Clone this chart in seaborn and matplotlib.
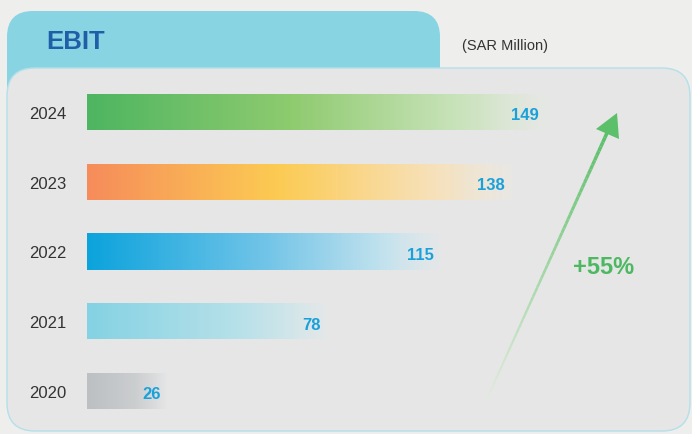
import numpy as np
import pandas as pd
import matplotlib
matplotlib.use("Agg")
import matplotlib.pyplot as plt
import seaborn as sns
from matplotlib.patches import FancyBboxPatch, Polygon
from matplotlib.collections import LineCollection
from matplotlib.colors import to_rgb

years = ["2024", "2023", "2022", "2021", "2020"]
ebit = [149, 138, 115, 78, 26]
title = "EBIT"
unit = "(SAR Million)"
growth = "+55%"

stops = {
    "2024": [(0, "#4DB560"), (0.45, "#8DCB6C"), (0.8, "#C6E2B6"), (1, "#E6E9E3")],
    "2023": [(0, "#F78C5A"), (0.45, "#FDCB4E"), (0.8, "#F8E0B4"), (1, "#EDE9E2")],
    "2022": [(0, "#0AA3DC"), (0.5, "#6CC3E8"), (0.85, "#C3E3EF"), (1, "#E4E8EA")],
    "2021": [(0, "#84D2E3"), (0.6, "#B2E0EA"), (1, "#E2E9EB")],
    "2020": [(0, "#BDC0C3"), (0.6, "#CACDCF"), (1, "#E3E4E5")],
}

sns.set_theme(style="white")
plt.rcParams["font.family"] = ["Liberation Sans", "DejaVu Sans"]

fig = plt.figure(figsize=(6.92, 4.35), dpi=100)
fig.patch.set_facecolor("#EEEEEC")

bg = fig.add_axes([0, 0, 1, 1])
bg.set_xlim(0, 692)
bg.set_ylim(435, 0)
bg.axis("off")

tab = FancyBboxPatch((7, 12), 433, 110, boxstyle="round,pad=0,rounding_size=26",
                     facecolor="#88D4E2", edgecolor="none", zorder=1)
bg.add_patch(tab)
panel = FancyBboxPatch((7, 69), 683, 363, boxstyle="round,pad=0,rounding_size=28",
                       facecolor="#E6E6E6", edgecolor="#B3E0EA", linewidth=1.0, zorder=2)
bg.add_patch(panel)

bg.text(46, 42, title, ha="left", va="center", fontsize=18.5, fontweight="bold",
        color="#1F5FA8", zorder=3)
bg.text(462, 46, unit, ha="left", va="center", fontsize=10.5, color="#333333", zorder=3)

# growth arrow
n = 60
xs = np.linspace(486, 607, n)
ys = np.linspace(402, 134, n)
pts = np.array([xs, ys]).T.reshape(-1, 1, 2)
segs = np.concatenate([pts[:-1], pts[1:]], axis=1)
c0 = np.array(to_rgb("#E2ECDC"))
c1 = np.array(to_rgb("#5CBF6A"))
t = np.linspace(0, 1, n - 1)[:, None]
cols = c0 * (1 - t) + c1 * t
lc = LineCollection(segs, colors=cols, linewidths=np.linspace(1.2, 2.6, n - 1), zorder=3)
bg.add_collection(lc)
bg.add_patch(Polygon([(617, 114), (596, 130), (619, 140)], closed=True,
                     facecolor="#5CBF6A", edgecolor="none", zorder=3))
bg.text(604, 268, growth, ha="center", va="center", fontsize=17, fontweight="bold",
        color="#4DB862", zorder=3)

ax = fig.add_axes([87 / 692, (435 - 427) / 435, 600 / 692, 349 / 435])
ax.set_facecolor("none")
ax.set_zorder(4)
df = pd.DataFrame({"year": years, "ebit": ebit})
sns.barplot(data=df, x="ebit", y="year", order=years, orient="h", ax=ax,
            width=0.52, color="#cccccc", saturation=1)
xmax = 149 * 600 / 458
ax.set_xlim(0, xmax)
ylim = ax.get_ylim()

for patch, yr, v in zip(ax.patches, years, ebit):
    x0, y0 = patch.get_x(), patch.get_y()
    w, h = patch.get_width(), patch.get_height()
    st = stops[yr]
    pos = [s[0] for s in st]
    rgb = np.array([to_rgb(s[1]) for s in st])
    u = np.linspace(0, 1, 256)
    arr = np.zeros((1, 256, 4))
    for k in range(3):
        arr[0, :, k] = np.interp(u, pos, rgb[:, k])
    arr[0, :, 3] = np.interp(u, [0, 0.85, 1], [1, 0.95, 0.55])
    patch.set_facecolor("none")
    patch.set_edgecolor("none")
    im = ax.imshow(arr, extent=[x0, x0 + w, y0 + h, y0], aspect="auto",
                   interpolation="bicubic", zorder=2)
    im.set_clip_path(patch)
    ax.text(v - 2.0, y0 + h / 2 + 0.04, str(v), ha="right", va="center", fontsize=12,
            fontweight="bold", color="#1BA1DA", zorder=5)

ax.set_xlim(0, xmax)
ax.set_ylim(ylim)
ax.set_xlabel("")
ax.set_ylabel("")
ax.set_xticks([])
for s in ax.spines.values():
    s.set_visible(False)
ax.tick_params(axis="y", length=0, pad=14.5, labelsize=12, labelcolor="#333333")

fig.savefig("out.png", dpi=100)
